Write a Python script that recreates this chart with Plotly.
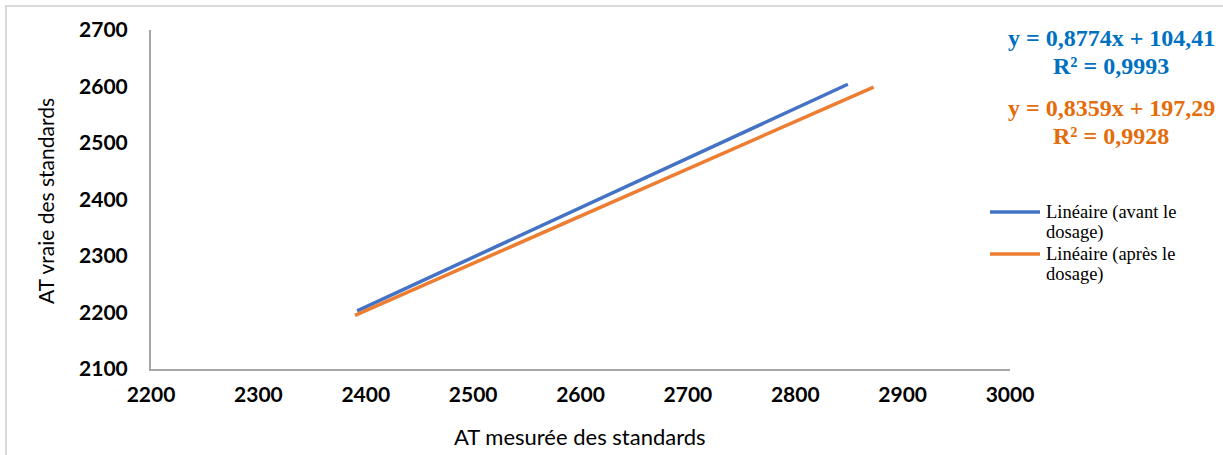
import plotly.graph_objects as go

# Trendline endpoints
avant_x = [2392, 2849]
avant_y = [2203, 2604]
apres_x = [2390, 2873]
apres_y = [2195, 2599]

names = [["Linéaire (avant le", "dosage)"], ["Linéaire (après le", "dosage)"]]
eq_avant = ["y = 0,8774x + 104,41", "R² = 0,9993"]
eq_apres = ["y = 0,8359x + 197,29", "R² = 0,9928"]

x_ticks = [2200, 2300, 2400, 2500, 2600, 2700, 2800, 2900, 3000]
y_ticks = [2100, 2200, 2300, 2400, 2500, 2600, 2700]

BLUE = "#4472C4"
ORANGE = "#ED7D31"
SANS = "Lato, Open Sans, sans-serif"
SERIF = "Liberation Serif, Times New Roman, serif"
TICKFONT = dict(family=SANS, size=21, color="black")

fig = go.Figure()
fig.add_trace(go.Scatter(x=avant_x, y=avant_y, mode="lines", name=" ".join(names[0]),
                         line=dict(color=BLUE, width=3.5), showlegend=False))
fig.add_trace(go.Scatter(x=apres_x, y=apres_y, mode="lines", name=" ".join(names[1]),
                         line=dict(color=ORANGE, width=3.5), showlegend=False))

fig.update_layout(
    width=1223, height=455,
    margin=dict(l=151, r=213, t=30, b=86),
    paper_bgcolor="white", plot_bgcolor="white",
    showlegend=False,
    xaxis=dict(range=[2200, 3000], tickvals=x_ticks, ticktext=[f"<b>{v}</b>" for v in x_ticks],
               showgrid=False, zeroline=False, showline=True, linecolor="#A6A6A6", linewidth=2,
               ticks="", ticklabelstandoff=6, tickfont=TICKFONT, automargin=False),
    yaxis=dict(range=[2100, 2700], tickvals=y_ticks, ticktext=[f"<b>{v}</b>" for v in y_ticks],
               showgrid=False, zeroline=False, showline=True, linecolor="#A6A6A6", linewidth=2,
               ticks="", ticklabelstandoff=17, tickfont=TICKFONT, automargin=False),
)


def px_x(p):
    return (p - 151) / 859


def px_y(p):
    return 1 - (p - 30) / 339


# axis titles placed explicitly
fig.add_annotation(xref="paper", yref="paper", x=px_x(45), y=px_y(201),
                   xanchor="center", yanchor="middle", textangle=-90, showarrow=False,
                   text="AT vraie des standards", font=dict(family=SANS, size=21, color="black"))
fig.add_annotation(xref="paper", yref="paper", x=px_x(580), y=px_y(436),
                   xanchor="center", yanchor="middle", showarrow=False,
                   text="AT mesurée des standards", font=dict(family=SANS, size=22, color="black"))

# trendline equations
for lines, color, ys in [(eq_avant, "#0070C0", (38, 66)), (eq_apres, "#E46C0A", (108, 136))]:
    for txt, yy in zip(lines, ys):
        fig.add_annotation(xref="paper", yref="paper", x=px_x(1111), y=px_y(yy),
                           xanchor="center", yanchor="middle", showarrow=False,
                           text=f"<b>{txt}</b>", font=dict(family=SERIF, size=24, color=color))

# legend drawn by hand (Excel-style long sample lines)
for name, color, ly in [(names[0], BLUE, 212), (names[1], ORANGE, 254)]:
    fig.add_shape(type="line", xref="paper", yref="paper", x0=px_x(990), x1=px_x(1040),
                  y0=px_y(ly), y1=px_y(ly), line=dict(color=color, width=3.5))
    for i, part in enumerate(name):
        fig.add_annotation(xref="paper", yref="paper", x=px_x(1044), y=px_y(ly + 20 * i),
                           xanchor="left", yanchor="middle", align="left", showarrow=False,
                           text=part, font=dict(family=SERIF, size=18.5, color="black"))

# outer chart border
fig.add_shape(type="rect", xref="paper", yref="paper", x0=px_x(6), x1=px_x(1240),
              y0=px_y(480), y1=px_y(6), line=dict(color="#D9D9D9", width=2), layer="below")

fig.write_html("out.html")
